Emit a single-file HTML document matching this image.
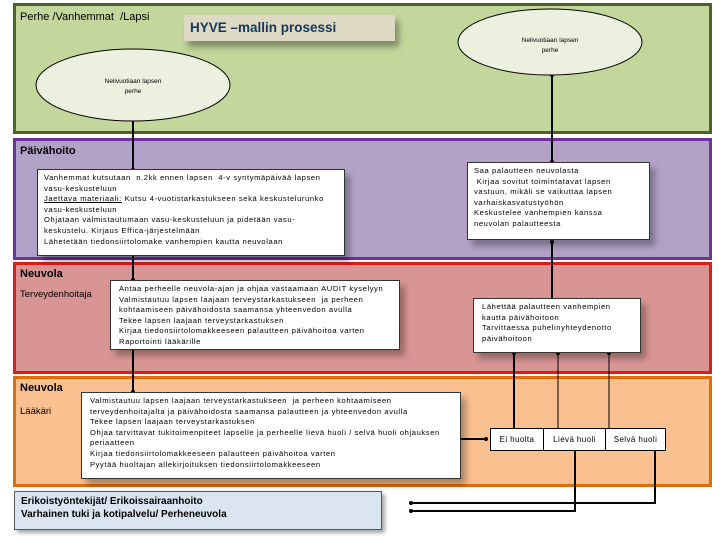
<!DOCTYPE html>
<html><head><meta charset="utf-8"><style>
body{margin:0;width:720px;height:540px;background:#fff;position:relative;overflow:hidden;font-family:"Liberation Sans",sans-serif;}
.a{position:absolute;box-sizing:border-box;}
.band{border-width:3px;border-style:solid;}
.tb{background:#fff;border:1px solid #333;font-size:7.6px;line-height:10.6px;padding:3px 6px;box-shadow:5px 6px 6px rgba(0,0,0,.3);color:#000;white-space:nowrap;letter-spacing:.6px;overflow:hidden;}
.lbl{font-size:11px;color:#000;}
</style></head><body>
<div class="a band" style="left:13px;top:3px;width:699px;height:131px;background:#c3d69b;border-color:#4f6228;"></div>
<div class="a band" style="left:13px;top:138px;width:699px;height:122px;background:#b2a2c7;border-color:#7030a0;"></div>
<div class="a band" style="left:13px;top:262px;width:699px;height:112px;background:#d99594;border-color:#e31a1c;"></div>
<div class="a band" style="left:13px;top:376px;width:699px;height:111px;background:#fac08f;border-color:#e36c09;"></div>

<div class="a lbl" style="left:20px;top:11px;">Perhe /Vanhemmat &nbsp;/Lapsi</div>
<div class="a" style="left:184px;top:15px;width:211px;height:26px;background:#ddd9c3;box-shadow:4px 6px 6px rgba(0,0,0,.35);color:#17375e;font-size:13.5px;font-weight:bold;padding:5px 6px;box-sizing:border-box;">HYVE –mallin prosessi</div>

<svg class="a" style="left:0;top:0" width="720" height="540">
<g stroke="#000" stroke-width="2" fill="none">
<line x1="133" y1="121" x2="133" y2="170"/>
<line x1="133" y1="256" x2="133" y2="280"/>
<line x1="133" y1="350" x2="133" y2="392"/>
<line x1="552" y1="75" x2="552" y2="162"/>
<line x1="552" y1="240" x2="552" y2="298"/>
<line x1="514" y1="352" x2="514" y2="428"/>
<line x1="460" y1="439" x2="486" y2="439"/>
<polyline points="655,451 655,503 410,503"/>
<polyline points="575,451 575,511 410,511"/>
</g>
<g stroke="#000" stroke-width="1"><line x1="558" y1="352" x2="558" y2="428"/><line x1="609" y1="352" x2="609" y2="428"/></g>
<g fill="#000"><circle cx="133" cy="170" r="2"/><circle cx="133" cy="280" r="2"/><circle cx="133" cy="392" r="2"/><circle cx="552" cy="162" r="2"/><circle cx="552" cy="75" r="2"/><circle cx="552" cy="242" r="2"/><circle cx="514" cy="353" r="2"/><circle cx="558" cy="353" r="2"/><circle cx="609" cy="353" r="2"/><circle cx="486" cy="439" r="2"/><circle cx="411" cy="503" r="2"/><circle cx="411" cy="511" r="2"/></g>
<ellipse cx="133" cy="85" rx="97" ry="36" fill="#ebf1de" stroke="#000" stroke-width="1"/>
<ellipse cx="550" cy="42" rx="92" ry="33" fill="#ebf1de" stroke="#000" stroke-width="1"/>
<text x="133" y="83" font-size="6.5" text-anchor="middle" font-family="Liberation Sans">Nelivuotiaan lapsen</text>
<text x="133" y="93" font-size="6.5" text-anchor="middle" font-family="Liberation Sans">perhe</text>
<text x="550" y="42" font-size="6.5" text-anchor="middle" font-family="Liberation Sans">Nelivuotiaan lapsen</text>
<text x="550" y="52" font-size="6.5" text-anchor="middle" font-family="Liberation Sans">perhe</text>
</svg>

<div class="a lbl" style="left:20px;top:145px;font-weight:bold;">Päivähoito</div>
<div class="a tb" style="left:37px;top:169px;width:308px;height:87px;">Vanhemmat kutsutaan &nbsp;n.2kk ennen lapsen &nbsp;4-v syntymäpäivää lapsen<br>vasu-keskusteluun<br><u>Jaettava materiaali:</u> Kutsu 4-vuotistarkastukseen sekä keskustelurunko<br>vasu-keskusteluun<br>Ohjataan valmistautumaan vasu-keskusteluun ja pidetään vasu-<br>keskustelu. Kirjaus Effica-järjestelmään<br>Lähetetään tiedonsiirtolomake vanhempien kautta neuvolaan</div>
<div class="a tb" style="left:467px;top:162px;width:183px;height:78px;">Saa palautteen neuvolasta<br>&nbsp;Kirjaa sovitut toimintatavat lapsen<br>vastuun, mikäli se vaikuttaa lapsen<br>varhaiskasvatustyöhön<br>Keskustelee vanhempien kanssa<br>neuvolan palautteesta</div>

<div class="a lbl" style="left:20px;top:268px;font-weight:bold;">Neuvola</div>
<div class="a lbl" style="left:20px;top:289px;font-size:9.5px;">Terveydenhoitaja</div>
<div class="a tb" style="left:110px;top:280px;width:290px;height:70px;padding-left:8px;">Antaa perheelle neuvola-ajan ja ohjaa vastaamaan AUDIT kyselyyn<br>Valmistautuu lapsen laajaan terveystarkastukseen &nbsp;ja perheen<br>kohtaamiseen päivähoidosta saamansa yhteenvedon avulla<br>Tekee lapsen laajaan terveystarkastuksen<br>Kirjaa tiedonsiirtolomakkeeseen palautteen päivähoitoa varten<br>Raportointi lääkärille</div>
<div class="a tb" style="left:473px;top:298px;width:168px;height:55px;padding-left:8px;">Lähettää palautteen vanhempien<br>kautta päivähoitoon<br>Tarvittaessa puhelinyhteydenotto<br>päivähoitoon</div>

<div class="a lbl" style="left:20px;top:382px;font-weight:bold;">Neuvola</div>
<div class="a lbl" style="left:20px;top:406px;font-size:9.5px;">Lääkäri</div>
<div class="a tb" style="left:81px;top:392px;width:380px;height:87px;padding-left:8px;">Valmistautuu lapsen laajaan terveystarkastukseen &nbsp;ja perheen kohtaamiseen<br>terveydenhoitajalta ja päivähoidosta saamansa palautteen ja yhteenvedon avulla<br>Tekee lapsen laajaan terveystarkastuksen<br>Ohjaa tarvittavat tukitoimenpiteet lapselle ja perheelle lievä huoli / selvä huoli ohjauksen<br>periaatteen<br>Kirjaa tiedonsiirtolomakkeeseen palautteen päivähoitoa varten<br>Pyytää huoltajan allekirjoituksen tiedonsiirtolomakkeeseen</div>
<div class="a" style="left:490px;top:428px;width:176px;height:23px;background:#fff;border:1px solid #000;display:flex;font-size:8px;letter-spacing:.4px;">
<div style="width:52px;border-right:1px solid #000;text-align:center;line-height:21px;">Ei huolta</div>
<div style="width:61px;border-right:1px solid #000;text-align:center;line-height:21px;">Lievä huoli</div>
<div style="flex:1;text-align:center;line-height:21px;">Selvä huoli</div></div>

<div class="a" style="left:14px;top:491px;width:368px;height:39px;background:#dbe5f1;border:1px solid #555;box-shadow:3px 3px 4px rgba(0,0,0,.35);font-size:10px;font-weight:bold;line-height:13px;padding:3px 6px;">Erikoistyöntekijät/ Erikoissairaanhoito<br>Varhainen tuki ja kotipalvelu/ Perheneuvola</div>
</body></html>
